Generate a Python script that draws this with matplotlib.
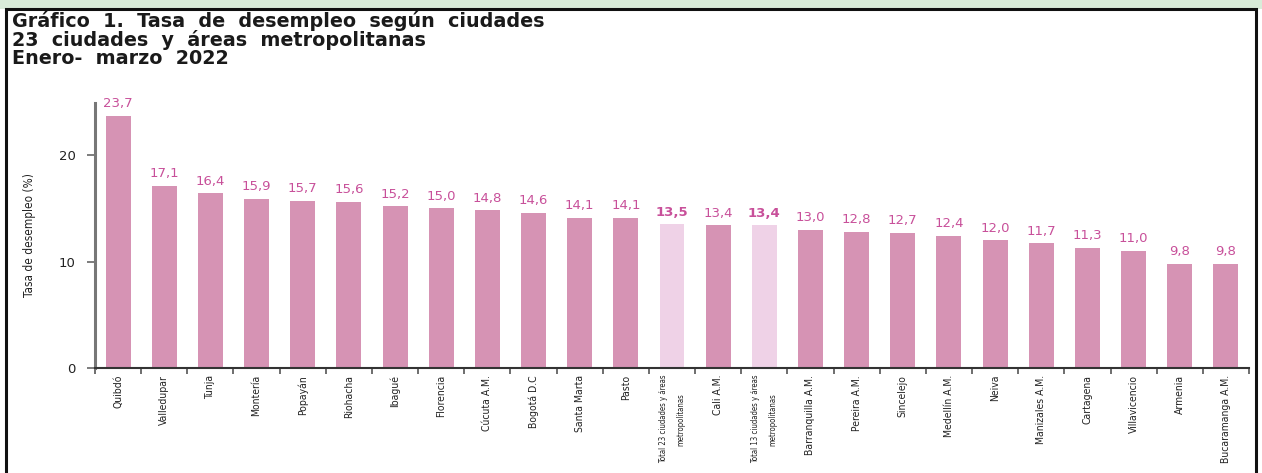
import matplotlib
matplotlib.use("Agg")
import matplotlib.pyplot as plt
from matplotlib.patches import Rectangle

categories = ["Quibdó", "Valledupar", "Tunja", "Montería", "Popayán", "Riohacha",
              "Ibagué", "Florencia", "Cúcuta A.M.", "Bogotá D.C", "Santa Marta", "Pasto",
              "Total 23 ciudades y áreas\nmetropolitanas", "Cali A.M.",
              "Total 13 ciudades y áreas\nmetropolitanas", "Barranquilla A.M.",
              "Pereira A.M.", "Sincelejo", "Medellín A.M.", "Neiva", "Manizales A.M.",
              "Cartagena", "Villavicencio", "Armenia", "Bucaramanga A.M."]
values = [23.7, 17.1, 16.4, 15.9, 15.7, 15.6, 15.2, 15.0, 14.8, 14.6, 14.1, 14.1,
          13.5, 13.4, 13.4, 13.0, 12.8, 12.7, 12.4, 12.0, 11.7, 11.3, 11.0, 9.8, 9.8]
is_total = [c.startswith("Total") for c in categories]
y_ticks = [0, 10, 20]

W, H = 1262, 473
fig = plt.figure(figsize=(W / 100, H / 100), dpi=100)
fig.patch.set_facecolor("white")

# greenish strip at top (screenshot background) and the black frame
fig.add_artist(Rectangle((0, 1 - 9 / H), 1, 9 / H, transform=fig.transFigure,
                         facecolor="#d9ecd9", edgecolor="none", zorder=0))
fig.add_artist(Rectangle((6 / W, -0.05), (1256 - 6) / W, 1.05 - 9 / H,
                         transform=fig.transFigure, facecolor="white",
                         edgecolor="#111111", linewidth=2.2, zorder=1))

ax = fig.add_axes([95 / W, 1 - 368 / H, (1249 - 95) / W, (368 - 103) / H])
ax.set_facecolor("none")
ax.set_zorder(3)

bar_col = "#d693b4"
light_col = "#efd2e7"
label_col = "#c8509a"
colors = [light_col if t else bar_col for t in is_total]
x = list(range(len(categories)))
ax.bar(x, values, width=0.54, color=colors, zorder=2)

for xi, v, t in zip(x, values, is_total):
    ax.annotate(f"{v:.1f}".replace(".", ","), (xi, v), xytext=(0, 4),
                textcoords="offset points", ha="center", va="bottom",
                fontsize=9.5, color=label_col,
                fontweight="bold" if t else "normal")

ax.set_xlim(-0.5, len(categories) - 0.5)
ax.set_ylim(0, 24.9)
ax.set_yticks(y_ticks)
ax.set_yticklabels([str(t) for t in y_ticks], fontsize=9.5, color="#222222")
ax.tick_params(axis="y", length=6, width=1.2, color="#666666", pad=8)

ax.set_xticks([i - 0.5 for i in range(len(categories) + 1)])
ax.set_xticklabels([])
ax.tick_params(axis="x", length=4, width=1.2, color="#555555")
cond = dict(family="DejaVu Sans", fontstretch="condensed")
for xi, c, t in zip(x, categories, is_total):
    ax.text(xi, -0.65, c, rotation=90, rotation_mode="anchor", ha="right",
            va="center", multialignment="center",
            fontsize=5.6 if t else 7.5,
            color="#222222", transform=ax.transData, clip_on=False,
            linespacing=2.2 if t else 1.2, **cond)

for s in ["top", "right"]:
    ax.spines[s].set_visible(False)
ax.spines["left"].set_color("#777777")
ax.spines["left"].set_linewidth(2.2)
ax.spines["bottom"].set_color("#333333")
ax.spines["bottom"].set_linewidth(1.5)

ax.set_ylabel("Tasa de desempleo (%)", fontsize=8.5, color="#222222",
              labelpad=16, **cond)

title_lines = ["Gráfico  1.  Tasa  de  desempleo  según  ciudades",
               "23  ciudades  y  áreas  metropolitanas",
               "Enero-  marzo  2022"]
for i, line in enumerate(title_lines):
    fig.text(12 / W, 1 - (21 + 18.5 * i) / H, line, fontsize=13.8, fontweight="bold",
             color="#1a1a1a", ha="left", va="center", zorder=5)

fig.savefig("out.png", dpi=100)
